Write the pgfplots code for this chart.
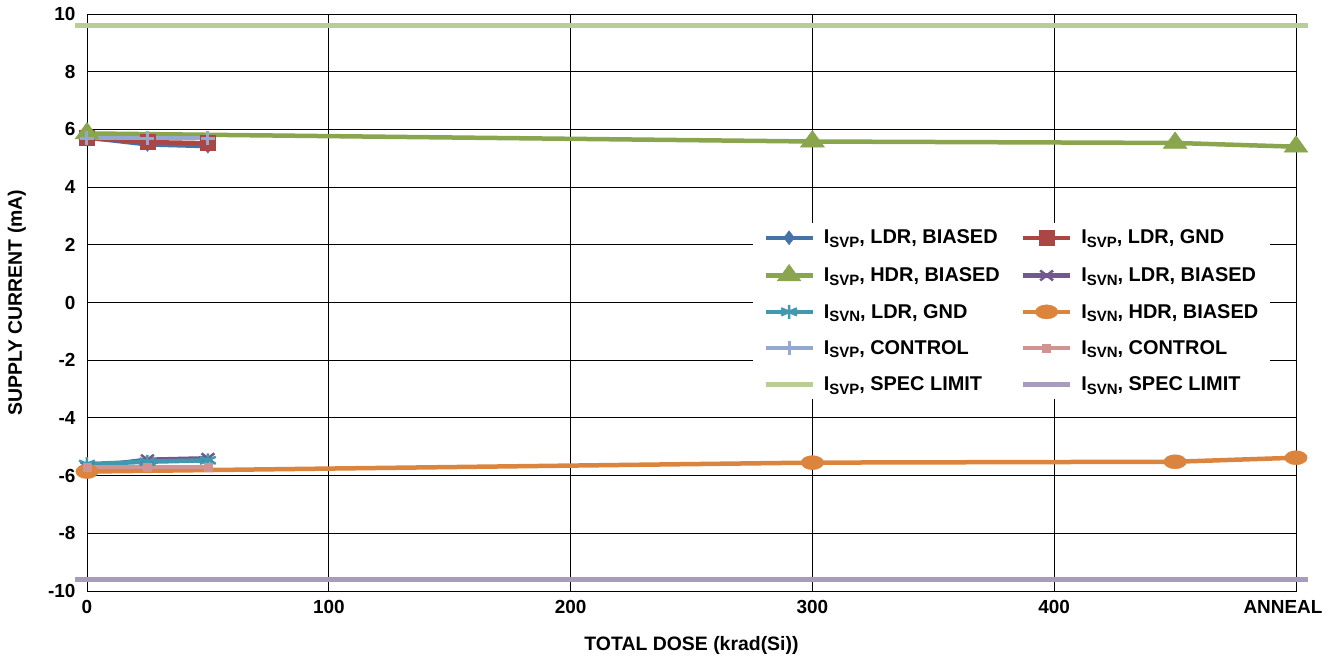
\documentclass[border=0pt]{standalone}
\usepackage{pgfplots}
\pgfplotsset{compat=1.18}
\usepackage{fontspec}
\setmainfont{Liberation Sans}
\usetikzlibrary{plotmarks}
\definecolor{cA}{HTML}{4572A7}
\definecolor{cB}{HTML}{AA4643}
\definecolor{cC}{HTML}{89A54E}
\definecolor{cD}{HTML}{71588F}
\definecolor{cE}{HTML}{4198AF}
\definecolor{cF}{HTML}{DB843D}
\definecolor{cG}{HTML}{93A9CF}
\definecolor{cH}{HTML}{D19392}
\definecolor{cI}{HTML}{B9CD96}
\definecolor{cJ}{HTML}{A99BBD}
\newcommand{\sub}[1]{\raisebox{-0.32ex}{\fontsize{15}{15}\selectfont #1}}
\begin{document}
\begin{tikzpicture}[x=1bp,y=1bp]
\begin{axis}[
  name=ax,
  scale only axis,
  width=1209bp, height=577bp,
  xmin=0, xmax=500, ymin=-10, ymax=10,
  xtick={0,100,200,300,400,500},
  xticklabels={0,100,200,300,400,{\hspace*{-26bp}ANNEAL}},
  ytick={-10,-8,...,10},
  grid=major,
  major grid style={black, line width=0.9bp},
  axis line style={black, line width=0.9bp},
  tick style={draw=none},
  clip=false,
  tick label style={font=\fontsize{19}{22}\selectfont\bfseries},
  /pgf/number format/assume math mode=true,
  yticklabel style={xshift=-8bp},
  xticklabel style={yshift=-6bp},
  xlabel={\fontsize{19.5}{22}\selectfont\bfseries TOTAL DOSE (krad(Si))},
  ylabel={\fontsize{19.5}{22}\selectfont\bfseries SUPPLY CURRENT (mA)},
  xlabel style={at={(axis description cs:0.5,-0.095)}, anchor=center},
  ylabel style={at={(axis description cs:-0.058,0.5)}, anchor=center},
  legend columns=2,
  legend cell align=left,
  legend style={at={(0.551,0.638)}, anchor=north west, draw=none, fill=white,
    font=\fontsize{20}{22}\selectfont\bfseries,
    /tikz/every odd column/.append style={column sep=7bp},
    /tikz/every even column/.append style={column sep=19bp},
    row sep=17bp, inner xsep=10bp, inner ysep=5bp},
  legend image code/.code={\draw[mark repeat=2,mark phase=2] plot coordinates {(0bp,0bp) (23.5bp,0bp) (47bp,0bp)};},
  every axis plot/.append style={line width=4.5bp},
]
\addplot[cA, mark=diamond*, mark size=7bp, mark options={line width=0.5bp,fill=cA}] coordinates {(0,5.72) (25,5.48) (50,5.42)};
\addlegendentry{I\sub{SVP}, LDR, BIASED}
\addplot[cB, mark=square*, mark size=7.5bp, mark options={line width=0.5bp,fill=cB}] coordinates {(0,5.7) (25,5.56) (50,5.52)};
\addlegendentry{I\sub{SVP}, LDR, GND}
\addplot[cC, mark=triangle*, mark size=11bp, mark options={line width=0.5bp,fill=cC,xscale=1.25}] coordinates {(0,5.86) (300,5.58) (450,5.53) (500,5.4)};
\addlegendentry{I\sub{SVP}, HDR, BIASED}
\addplot[cD, mark=x, mark size=7bp, mark options={line width=2.5bp,xscale=1.3}] coordinates {(0,-5.7) (25,-5.45) (50,-5.4)};
\addlegendentry{I\sub{SVN}, LDR, BIASED}
\addplot[cE, mark=asterisk, mark size=7bp, mark options={line width=2.5bp,xscale=1.3}] coordinates {(0,-5.6) (25,-5.52) (50,-5.47)};
\addlegendentry{I\sub{SVN}, LDR, GND}
\addplot[cF, mark=*, mark options={line width=0.5bp,fill=cF,xscale=1.6}, mark size=7bp] coordinates {(0,-5.86) (300,-5.55) (450,-5.52) (500,-5.38)};
\addlegendentry{I\sub{SVN}, HDR, BIASED}
\addplot[cG, mark=+, mark size=7bp, mark options={line width=3bp}] coordinates {(0,5.7) (25,5.7) (50,5.7)};
\addlegendentry{I\sub{SVP}, CONTROL}
\addplot[cH, mark=square*, mark size=4bp, mark options={line width=0.5bp,fill=cH}] coordinates {(0,-5.7) (25,-5.7) (50,-5.7)};
\addlegendentry{I\sub{SVN}, CONTROL}
\addplot[cI, mark=-, mark size=12bp] coordinates {(0,9.6) (25,9.6) (50,9.6) (300,9.6) (450,9.6) (500,9.6)};
\addlegendentry{I\sub{SVP}, SPEC LIMIT}
\addplot[cJ, mark=-, mark size=12bp] coordinates {(0,-9.6) (25,-9.6) (50,-9.6) (300,-9.6) (450,-9.6) (500,-9.6)};
\addlegendentry{I\sub{SVN}, SPEC LIMIT}
\end{axis}
\pgfresetboundingbox
\path ([shift={(-87bp,-66bp)}]ax.south west) rectangle ([shift={(40bp,14bp)}]ax.north east);
\end{tikzpicture}
\end{document}
